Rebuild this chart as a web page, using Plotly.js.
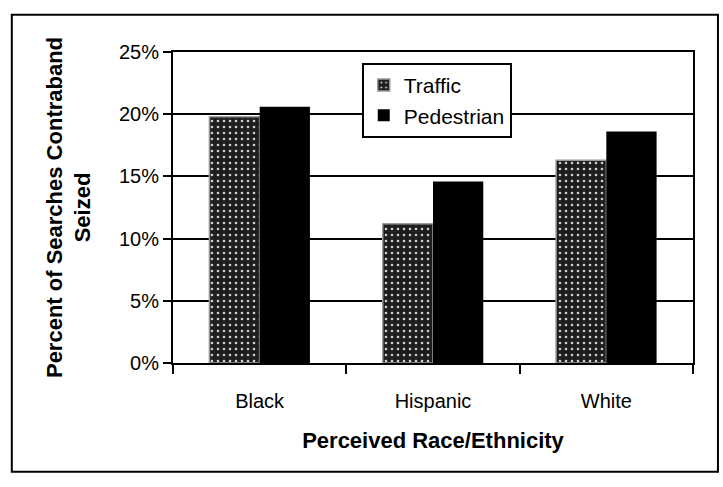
<!DOCTYPE html>
<html>
<head>
<meta charset="utf-8">
<script src="https://cdn.plot.ly/plotly-3.0.1.min.js"></script>
<style>
html,body{margin:0;padding:0;background:#fff;}
#chart{width:723px;height:487px;}
</style>
</head>
<body>
<div id="chart"></div>
<script>
const categories = ["Black", "Hispanic", "White"];
const trafficValues = [0.198, 0.112, 0.163];
const pedestrianValues = [0.206, 0.146, 0.186];
const seriesNames = ["Traffic", "Pedestrian"];
const yTickValues = [0, 0.05, 0.10, 0.15, 0.20, 0.25];
const yTickLabels = ["0%", "5%", "10%", "15%", "20%", "25%"];

const fontFamily = "Liberation Sans, Arial, sans-serif";

const traces = [
  {
    type: "bar",
    name: seriesNames[0],
    x: categories,
    y: trafficValues,
    marker: {
      color: "#1e1e1e",
      line: {color: "#9a9a9a", width: 1.5},
      pattern: {shape: ".", fgcolor: "#cfcfcf", bgcolor: "#1e1e1e", size: 6, solidity: 0.15}
    }
  },
  {
    type: "bar",
    name: seriesNames[1],
    x: categories,
    y: pedestrianValues,
    marker: {color: "#000000", line: {color: "#000000", width: 0}}
  }
];

const layout = {
  width: 723,
  height: 487,
  margin: {l: 173, r: 30, t: 52, b: 124},
  paper_bgcolor: "#ffffff",
  plot_bgcolor: "#ffffff",
  font: {family: fontFamily, color: "#000", size: 20},
  barmode: "group",
  bargap: 0.42,
  bargroupgap: 0,
  showlegend: true,
  legend: {
    x: 0.363, y: 0.965, xanchor: "left", yanchor: "top",
    bgcolor: "#ffffff", bordercolor: "#000", borderwidth: 2,
    font: {family: fontFamily, size: 21, color: "#000"},
    tracegroupgap: 4, itemwidth: 20
  },
  xaxis: {
    type: "category",
    showline: true, linecolor: "#000", linewidth: 2,
    mirror: true,
    ticks: "outside", tickson: "boundaries", ticklen: 9, tickwidth: 2, tickcolor: "#000",
    ticklabelstandoff: 19,
    tickfont: {family: fontFamily, size: 20, color: "#000"},
    title: {text: "<b>Perceived Race/Ethnicity</b>", font: {family: fontFamily, size: 22, color: "#000"}, standoff: 22},
    showgrid: false
  },
  yaxis: {
    range: [0, 0.25],
    tickvals: yTickValues,
    ticktext: yTickLabels,
    showline: true, linecolor: "#000", linewidth: 2,
    mirror: true,
    ticks: "outside", ticklen: 8, tickwidth: 2, tickcolor: "#000",
    showgrid: true, gridcolor: "#000", gridwidth: 2,
    zeroline: false,
    tickfont: {family: fontFamily, size: 20, color: "#000"},
    title: {text: "<b>Percent of Searches Contraband<br>Seized</b>", font: {family: fontFamily, size: 22, color: "#000"}, standoff: 22}
  },
  shapes: [
    {type: "rect", xref: "paper", yref: "paper", x0: -0.31, x1: 1.048, y0: -0.35, y1: 1.12,
     line: {color: "#000", width: 2}, fillcolor: "rgba(0,0,0,0)", layer: "below"}
  ]
};

Plotly.newPlot("chart", traces, layout, {displayModeBar: false, staticPlot: true});
</script>
</body>
</html>
